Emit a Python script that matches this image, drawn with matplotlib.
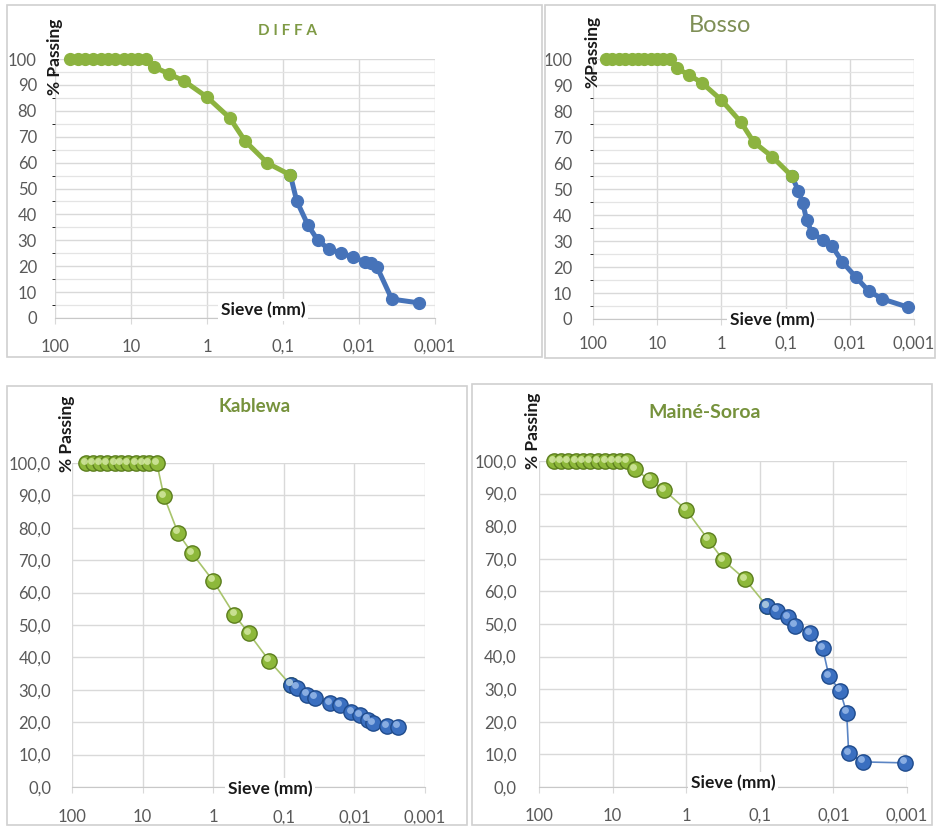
#coding: utf-8
import numpy as np
import matplotlib.pyplot as plt
import matplotlib.transforms as mtransforms
from matplotlib.patches import Rectangle
from matplotlib.ticker import FixedLocator, MultipleLocator

plt.rcParams['font.family'] = ['Lato', 'DejaVu Sans']

# tamis (mm) pour la partie granulometrie (vert)
tamis = [63, 50, 40, 31.5, 25, 20, 16, 12.5, 10, 8, 6.3, 5, 3.15, 2, 1, 0.5, 0.315, 0.16, 0.08]

# % passant, partie tamisage
diffa_tamis = [100]*11 + [97.0, 94.2, 91.5, 85.3, 77.2, 68.3, 59.8, 55.2]
bosso_tamis = [100]*11 + [96.5, 93.8, 90.8, 84.2, 75.8, 68.1, 62.3, 55.0]
kablewa_tamis = [100]*11 + [89.8, 78.4, 72.2, 63.6, 53.1, 47.5, 38.9, 31.5]
maine_tamis = [100]*11 + [97.5, 94.2, 91.1, 85.0, 75.8, 69.6, 63.8, 55.5]

# sedimentometrie (bleu)
diffa_d = [0.08, 0.066, 0.047, 0.035, 0.025, 0.017, 0.012, 0.0083, 0.0069, 0.0058, 0.0037, 0.0016]
diffa_sed = [55.2, 45.2, 35.9, 30.1, 26.6, 25.1, 23.5, 21.6, 21.2, 19.7, 7.3, 5.8]

bosso_d = [0.08, 0.063, 0.054, 0.047, 0.039, 0.026, 0.019, 0.013, 0.0081, 0.0051, 0.0031, 0.00126]
bosso_sed = [55.0, 49.2, 44.6, 38.1, 33.1, 30.4, 28.1, 21.9, 16.2, 10.8, 7.7, 4.6]

kablewa_d = [0.08, 0.065, 0.047, 0.036, 0.022, 0.016, 0.011, 0.0083, 0.0064, 0.0055, 0.0035, 0.0024]
kablewa_sed = [31.5, 30.6, 28.4, 27.5, 25.9, 25.3, 23.1, 22.2, 20.7, 19.6, 18.7, 18.6]

maine_d = [0.08, 0.059, 0.042, 0.033, 0.021, 0.014, 0.0115, 0.0081, 0.0066, 0.0062, 0.004, 0.00107]
maine_sed = [55.5, 54.0, 52.1, 49.5, 47.2, 42.6, 34.0, 29.5, 22.7, 10.4, 7.7, 7.4]

x_ticks = [100, 10, 1, 0.1, 0.01, 0.001]
x_labels = ['100', '10', '1', '0,1', '0,01', '0,001']
y_ticks = [0, 10, 20, 30, 40, 50, 60, 70, 80, 90, 100]
y_labels_int = ['0', '10', '20', '30', '40', '50', '60', '70', '80', '90', '100']
y_labels_dec = ['0,0', '10,0', '20,0', '30,0', '40,0', '50,0', '60,0', '70,0', '80,0', '90,0', '100,0']

W, H = 936, 826
fig = plt.figure(figsize=(W/100, H/100), dpi=100)

grid_c = '#D9D9D9'
tick_c = '#595959'


def px_axes(x0, y0, x1, y1):
    return fig.add_axes([x0/W, 1 - y1/H, (x1-x0)/W, (y1-y0)/H])


def cadre(x0, y0, x1, y1):
    fig.add_artist(Rectangle((x0/W, 1 - y1/H), (x1-x0)/W, (y1-y0)/H,
                             transform=fig.transFigure, fill=False,
                             edgecolor='#D0D0D0', lw=1.2))


def preparer(ax, ylabels, minor5, ypad, xpad):
    ax.set_xscale('log')
    ax.set_xlim(100, 0.001)
    ax.set_ylim(0, 100)
    ax.xaxis.set_major_locator(FixedLocator(x_ticks))
    ax.set_xticklabels(x_labels)
    ax.xaxis.set_minor_locator(FixedLocator([]))
    ax.set_yticks(y_ticks)
    ax.set_yticklabels(ylabels)
    if minor5:
        ax.yaxis.set_minor_locator(MultipleLocator(5))
        ax.grid(True, which='minor', axis='y', color='#E4E4E4', lw=0.9)
    ax.grid(True, which='major', color=grid_c, lw=1.0)
    ax.set_axisbelow(True)
    for s in ['top', 'right', 'left']:
        ax.spines[s].set_visible(False)
    ax.spines['bottom'].set_color('#C8C8C8')
    ax.tick_params(axis='y', length=0, pad=ypad, labelsize=12, labelcolor=tick_c)
    ax.tick_params(axis='x', length=4, color=grid_c, pad=xpad, labelsize=12, labelcolor=tick_c)


def sieve(ax, x, y):
    ax.text(x, y, 'Sieve (mm)', transform=ax.transAxes, ha='center', va='center',
            fontsize=12.5, fontweight='bold', color='#1A1A1A', zorder=10, clip_on=False,
            bbox=dict(facecolor='white', edgecolor='none', pad=2))


def boules(ax, d, p, face, bord, clair, ms):
    # petit effet "sphere" : marqueur + reflet decale
    ax.plot(d, p, 'o', ms=ms, mfc=face, mec=bord, mew=1.0, zorder=5, clip_on=False)
    tr = mtransforms.offset_copy(ax.transData, fig=fig, x=-1.4, y=1.8, units='points')
    ax.plot(d, p, 'o', ms=ms*0.45, mfc=clair, mec='none', alpha=0.8, transform=tr,
            zorder=6, clip_on=False)


vert = '#8CB340'
bleu = '#4673B9'

# ---------------- DIFFA
cadre(7, 5, 542, 357)
ax1 = px_axes(55, 59, 435, 318)
preparer(ax1, y_labels_int, True, 13, 11)
ax1.plot(diffa_d, diffa_sed, '-o', color=bleu, lw=3.6, ms=8.5, zorder=3, clip_on=False)
ax1.plot(tamis, diffa_tamis, '-o', color=vert, lw=3.6, ms=8.5, zorder=4, clip_on=False)
sieve(ax1, 0.547, 0.03)
fig.text(287/W, 1 - 31/H, 'D I F F A', ha='center', va='center', fontsize=11,
         fontweight='bold', color='#7F9A45')
fig.text(55/W, 1 - 57/H, '% Passing', rotation=90, ha='center', va='center',
         fontsize=12.5, fontweight='bold', color='#1A1A1A')

# ---------------- Bosso
cadre(545, 5, 935, 358)
ax2 = px_axes(593, 59, 914, 319)
preparer(ax2, y_labels_int, True, 15, 8)
ax2.plot(bosso_d, bosso_sed, '-o', color=bleu, lw=3.6, ms=8.5, zorder=3, clip_on=False)
ax2.plot(tamis, bosso_tamis, '-o', color=vert, lw=3.6, ms=8.5, zorder=4, clip_on=False)
sieve(ax2, (772-593)/321, -0.005)
fig.text(720/W, 1 - 26/H, 'Bosso', ha='center', va='center', fontsize=17,
         color='#7F8F56')
fig.text(592/W, 1 - 52/H, '%Passing', rotation=90, ha='center', va='center',
         fontsize=12.5, fontweight='bold', color='#1A1A1A')

# ---------------- Kablewa
cadre(7, 386, 467, 825)
ax3 = px_axes(72, 463, 425, 787)
preparer(ax3, y_labels_dec, False, 15, 12)
ax3.plot(tamis, kablewa_tamis, '-', color='#A8C46C', lw=1.2, zorder=3)
ax3.plot(kablewa_d, kablewa_sed, '-', color='#5B85C4', lw=1.2, zorder=3)
boules(ax3, tamis, kablewa_tamis, '#8DB83A', '#5C7E1E', '#D8EBA8', 11)
boules(ax3, kablewa_d, kablewa_sed, '#3A6FC0', '#1F4B8C', '#9DBDEB', 11)
sieve(ax3, (270-72)/353, -0.005)
fig.text(255/W, 1 - 406/H, 'Kablewa', ha='center', va='center', fontsize=13.5,
         fontweight='bold', color='#76923C')
fig.text(67/W, 1 - 434/H, '% Passing', rotation=90, ha='center', va='center',
         fontsize=12.5, fontweight='bold', color='#1A1A1A')

# ---------------- Maine-Soroa
cadre(472, 384, 932, 825)
ax4 = px_axes(539, 461, 907, 787)
preparer(ax4, y_labels_dec, False, 16, 11)
ax4.plot(tamis, maine_tamis, '-', color='#A8C46C', lw=1.2, zorder=3)
ax4.plot(maine_d, maine_sed, '-', color='#5B85C4', lw=1.2, zorder=3)
boules(ax4, tamis, maine_tamis, '#8DB83A', '#5C7E1E', '#D8EBA8', 11)
boules(ax4, maine_d, maine_sed, '#3A6FC0', '#1F4B8C', '#9DBDEB', 11)
sieve(ax4, (733-539)/368, 0.013)
fig.text(705/W, 1 - 413/H, 'Mainé-Soroa', ha='center', va='center', fontsize=14,
         fontweight='bold', color='#76923C')
fig.text(533/W, 1 - 431/H, '% Passing', rotation=90, ha='center', va='center',
         fontsize=12.5, fontweight='bold', color='#1A1A1A')

plt.savefig('out.png', dpi=100)
